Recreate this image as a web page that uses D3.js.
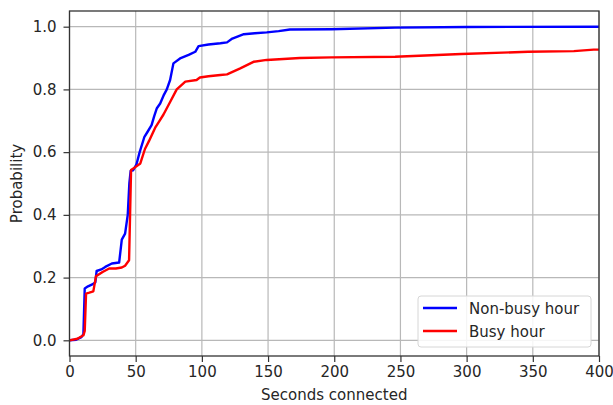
<!DOCTYPE html>
<html>
<head>
<meta charset="utf-8">
<script src="https://cdn.jsdelivr.net/npm/d3@7"></script>
<style>
    body { margin: 0; background: #fff; }
    text { font-family: "DejaVu Sans", sans-serif; fill: #262626; }
</style>
</head>
<body>
<svg id="chart" width="613" height="405"></svg>
<script>
// seconds connected / cumulative probability
const nonBusyX = [0, 5, 9, 10.5, 11.5, 14, 18, 19.5, 20.5, 24, 27, 32, 37.5, 39.5, 42, 44, 45.2, 46.2, 48, 50.5, 53, 56.6, 59, 62, 64, 66, 68.5, 71, 73.5, 76, 78.5, 84, 90, 95, 97.5, 105, 114, 119, 123, 131.7, 140, 149, 158, 166.5, 198, 246, 300, 400]
const nonBusyY = [0, 0.002, 0.01, 0.02, 0.165, 0.172, 0.18, 0.185, 0.221, 0.226, 0.234, 0.245, 0.248, 0.321, 0.34, 0.4, 0.5, 0.54, 0.542, 0.56, 0.6, 0.649, 0.665, 0.686, 0.715, 0.74, 0.755, 0.78, 0.8, 0.83, 0.883, 0.9, 0.91, 0.92, 0.938, 0.943, 0.947, 0.95, 0.962, 0.976, 0.979, 0.982, 0.986, 0.991, 0.992, 0.997, 0.999, 1.0]

const busyX = [0, 6, 10.5, 11.5, 12.5, 15, 18, 20, 25, 30, 35, 39.5, 42, 45, 46.5, 50, 53.5, 57, 60, 65, 68, 71, 76, 81, 87.5, 96, 98.5, 105, 114, 119, 129, 139, 149, 174, 198, 246, 296, 346.5, 381, 396, 400]
const busyY = [0, 0.005, 0.016, 0.03, 0.149, 0.152, 0.156, 0.204, 0.218, 0.229, 0.229, 0.232, 0.238, 0.255, 0.543, 0.553, 0.564, 0.61, 0.635, 0.68, 0.7, 0.72, 0.76, 0.8, 0.825, 0.83, 0.838, 0.842, 0.846, 0.848, 0.867, 0.888, 0.894, 0.9, 0.902, 0.904, 0.913, 0.92, 0.922, 0.927, 0.927]

const xTicks = [0, 50, 100, 150, 200, 250, 300, 350, 400]
const yTicks = [0, 0.2, 0.4, 0.6, 0.8, 1.0]

const series = [
    {name: 'Non-busy hour', color: '#0000ff', xs: nonBusyX, ys: nonBusyY},
    {name: 'Busy hour', color: '#ff0000', xs: busyX, ys: busyY}
]

const svg = d3.select('#chart')
const plot = {left: 69.5, right: 599, top: 11, bottom: 356}
const fontSize = 15

const x = d3.scaleLinear().domain([0, 400]).range([plot.left, plot.right])
const y = d3.scaleLinear().domain([-0.05, 1.05]).range([plot.bottom, plot.top])

// grid
svg.append('g')
    .selectAll('line.vgrid')
    .data(xTicks)
    .enter()
        .append('line')
        .attr('x1', d => x(d)).attr('x2', d => x(d))
        .attr('y1', plot.top).attr('y2', plot.bottom)
        .attr('stroke', '#b8b8b8').attr('stroke-width', 1.2)

svg.append('g')
    .selectAll('line.hgrid')
    .data(yTicks)
    .enter()
        .append('line')
        .attr('x1', plot.left).attr('x2', plot.right)
        .attr('y1', d => y(d)).attr('y2', d => y(d))
        .attr('stroke', '#b8b8b8').attr('stroke-width', 1.2)

// curves
const line = d3.line()
    .x(d => x(d[0]))
    .y(d => y(d[1]))

svg.append('g')
    .selectAll('path')
    .data(series)
    .enter()
        .append('path')
        .attr('d', s => line(s.xs.map((v, i) => [v, s.ys[i]])))
        .attr('fill', 'none')
        .attr('stroke', s => s.color)
        .attr('stroke-width', 2.4)
        .attr('stroke-linejoin', 'round')

// axes
svg.append('g')
    .attr('transform', `translate(0,${plot.bottom})`)
    .call(d3.axisBottom(x).tickValues(xTicks).tickFormat(d3.format('d')).tickSize(6).tickPadding(4))

svg.append('g')
    .attr('transform', `translate(${plot.left},0)`)
    .call(d3.axisLeft(y).tickValues(yTicks).tickFormat(d3.format('.1f')).tickSize(6).tickPadding(7))

svg.selectAll('.domain').remove()
svg.selectAll('.tick line').attr('stroke', '#333').attr('stroke-width', 1.2)
svg.selectAll('.tick text')
    .attr('font-family', '"DejaVu Sans", sans-serif')
    .attr('font-size', fontSize)
    .attr('fill', '#262626')

// frame
svg.append('rect')
    .attr('x', plot.left).attr('y', plot.top)
    .attr('width', plot.right - plot.left).attr('height', plot.bottom - plot.top)
    .attr('fill', 'none')
    .attr('stroke', '#333').attr('stroke-width', 1.3)

svg.append('text')
    .attr('x', (plot.left + plot.right) / 2)
    .attr('y', 400)
    .attr('text-anchor', 'middle')
    .attr('font-size', fontSize)
    .text('Seconds connected')

svg.append('text')
    .attr('transform', `translate(22,${(plot.top + plot.bottom) / 2}) rotate(-90)`)
    .attr('text-anchor', 'middle')
    .attr('font-size', fontSize)
    .text('Probability')

// legend
const legend = svg.append('g').attr('transform', 'translate(418,296)')

legend.append('rect')
    .attr('width', 173).attr('height', 51)
    .attr('rx', 3)
    .attr('fill', 'rgba(255,255,255,0.85)')
    .attr('stroke', '#d6d6d6')

const legendItems = legend.selectAll('g.item')
    .data(series)
    .enter()
        .append('g')
        .classed('item', true)
        .attr('transform', (d, i) => `translate(0,${12 + i * 23})`)

legendItems.append('line')
    .attr('x1', 5).attr('x2', 39)
    .attr('stroke', d => d.color)
    .attr('stroke-width', 2.4)

legendItems.append('text')
    .attr('x', 51)
    .attr('y', 5.5)
    .attr('font-size', fontSize)
    .text(d => d.name)
</script>
</body>
</html>
